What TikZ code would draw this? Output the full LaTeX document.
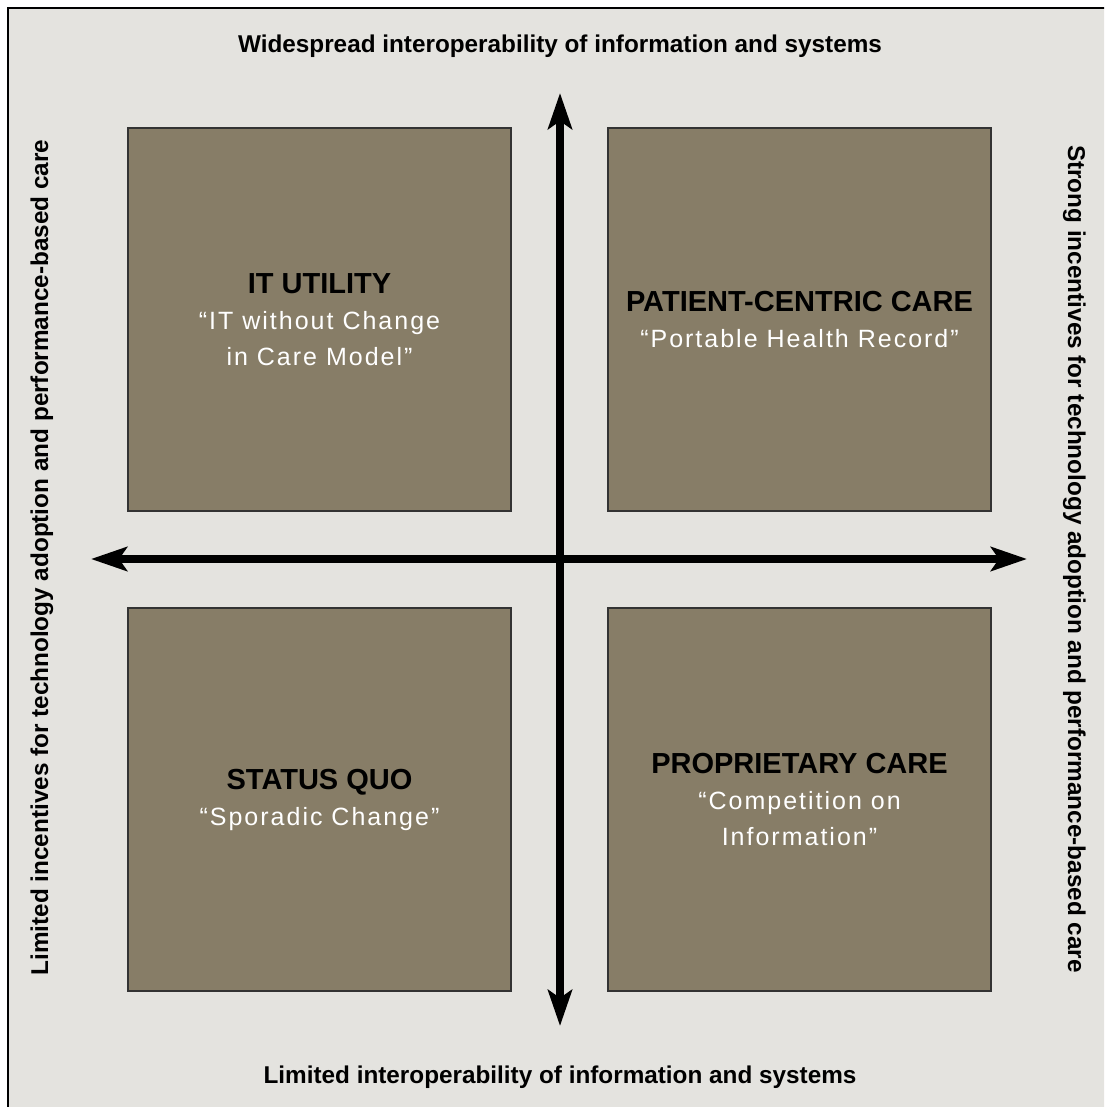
\documentclass[tikz,border=0pt]{standalone}
\usepackage{fontspec}
\setmainfont{Liberation Sans}
\usetikzlibrary{arrows.meta}
\definecolor{paper}{RGB}{228,227,223}
\definecolor{khaki}{RGB}{135,125,103}
\newcommand\quadtitle[1]{{\color{black}\bfseries\fontsize{29}{36}\selectfont\addfontfeature{LetterSpace=0}#1}}
\begin{document}
\begin{tikzpicture}[x=1pt,y=-1pt,
    quad/.style={draw=black!80,line width=1.2pt,fill=khaki,minimum size=383pt,inner sep=0pt,
      align=center,text=white,font=\fontsize{25}{36}\selectfont\addfontfeature{LetterSpace=8}},
    axis/.style={line width=8pt,{Stealth[length=36pt,width=24pt,inset=8pt]}-{Stealth[length=36pt,width=24pt,inset=8pt]}},
    edge/.style={font=\bfseries\fontsize{24.3}{29}\selectfont,anchor=base}]
  \useasboundingbox (0,0) rectangle (1104,1107);
  \clip (0,0) rectangle (1104,1107);
  \draw[line width=2pt,fill=paper] (8,8) rectangle (1130,1130);
  % four quadrants
  \node[quad] (tl) at (319.5,319.5) {\quadtitle{IT UTILITY}\\“IT without Change\\in Care Model”};
  \node[quad] (tr) at (799.5,319.5) {\quadtitle{PATIENT-CENTRIC CARE}\\“Portable Health Record”};
  \node[quad] (bl) at (319.5,799.5) {\quadtitle{STATUS QUO}\\“Sporadic Change”};
  \node[quad] (br) at (799.5,799.5) {\quadtitle{PROPRIETARY CARE}\\“Competition on\\Information”};
  % axes
  \coordinate (w) at (91,559);
  \coordinate (e) at (1027,559);
  \coordinate (n) at (560,93);
  \coordinate (s) at (560,1026);
  \draw[axis] (w) -- (e);
  \draw[axis] (s) -- (n);
  \node[edge] (top) at (560,53) {Widespread interoperability of information and systems};
  \node[edge] (bottom) at (560,1083) {Limited interoperability of information and systems};
  \node[edge,rotate=90] (left) at (48,557.5) {Limited incentives for technology adoption and performance-based care};
  \node[edge,rotate=-90] (right) at (1068,559) {Strong incentives for technology adoption and performance-based care};
\end{tikzpicture}
\end{document}
